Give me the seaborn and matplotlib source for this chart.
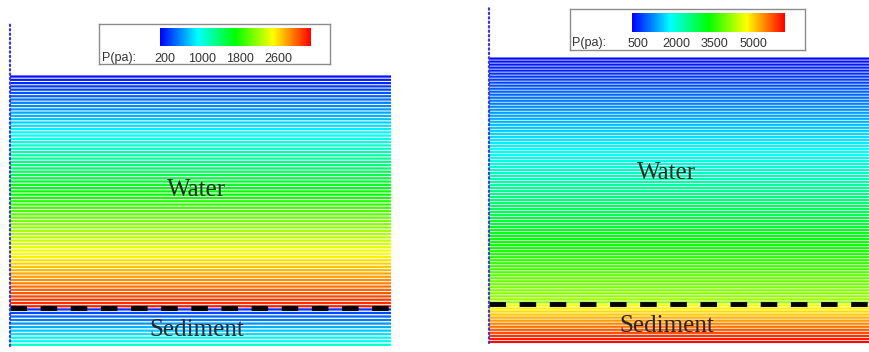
import numpy as np
import pandas as pd
import matplotlib
matplotlib.use("Agg")
import matplotlib.pyplot as plt
import seaborn as sns
from matplotlib.colors import LinearSegmentedColormap, Normalize
from matplotlib.cm import ScalarMappable

# ---- data read off the two runs ----
# pressure (Pa) at top and bottom of each layer, number of grid lines per layer
left_water_p = (150, 3200)
left_sed_p = (250, 1050)
left_lines = (71, 11)
left_ticks = [200, 1000, 1800, 2600]
left_range = (100, 3300)

right_water_p = (300, 4200)
right_sed_p = (4700, 6200)
right_lines = (82, 13)
right_ticks = [500, 2000, 3500, 5000]
right_range = (250, 6250)

# layer extents (m): water top, bed, sediment bottom
left_z = (0.30, 0.0, -0.05)
right_z = (0.31, 0.0, -0.05)
boundary_top = (0.368, 0.375)

W, H = 870, 352

sns.set_style("white")
plt.rcParams["font.family"] = ["Liberation Sans", "DejaVu Sans"]

cmap = LinearSegmentedColormap.from_list(
    "modern", [(0, "#0000ff"), (0.25, "#00ffff"), (0.5, "#00ff00"),
               (0.75, "#ffff00"), (1, "#ff0000")])


def rect(x0, y0, x1, y1):
    return [x0 / W, 1 - y1 / H, (x1 - x0) / W, (y1 - y0) / H]


def layer_frame(z_top, z_bot, p_pair, n, start):
    # grid lines of one layer, top to bottom, with a small inset at each edge
    dz = (z_top - z_bot) / n
    z = np.linspace(z_top, z_bot + dz * 0.5, n)
    p = np.linspace(p_pair[0], p_pair[1], n)
    rows = []
    for i in range(n):
        for x in (0.0, 1.0):
            rows.append({"x": x, "z": z[i], "p": p[i], "line": start + i})
    return pd.DataFrame(rows)


def draw_panel(ax, zs, water_p, sed_p, nlines, rng, ztop_dot):
    df = pd.concat([
        layer_frame(zs[0], zs[1], water_p, nlines[0], 0),
        layer_frame(zs[1] - 0.002, zs[2], sed_p, nlines[1], 1000),
    ])
    sns.lineplot(data=df, x="x", y="z", hue="p", units="line", estimator=None,
                 palette=cmap, hue_norm=Normalize(*rng), legend=False,
                 linewidth=1.6, sort=False, snap=False, ax=ax)
    # water / sediment interface
    ax.plot([0, 1], [zs[1], zs[1]], color="black", lw=3.5, dashes=(3.4, 2.8),
            solid_capstyle="butt")
    # inflow boundary
    ax.plot([0, 0], [zs[2], ztop_dot], color="#3a3ad6", lw=1.6,
            linestyle=(0, (0.6, 1.4)), dash_capstyle="round", clip_on=False)
    ax.set_xlim(0, 1)
    ax.set_ylim(zs[2] - 0.002, zs[0] + 0.002)
    ax.axis("off")


def draw_legend(fig, box, bar, ticks, rng, label_xy, pad):
    bax = fig.add_axes(rect(*box))
    bax.set_xticks([])
    bax.set_yticks([])
    for s in bax.spines.values():
        s.set_color("#8c8c8c")
        s.set_linewidth(1)
    cax = fig.add_axes(rect(*bar))
    cb = fig.colorbar(ScalarMappable(Normalize(*rng), cmap), cax=cax,
                      orientation="horizontal", ticks=ticks)
    cb.outline.set_visible(False)
    cax.tick_params(length=0, pad=pad, labelsize=9, labelcolor="#333333")
    fig.text(label_xy[0] / W, 1 - label_xy[1] / H, "P(pa):", fontsize=9,
             color="#333333", va="center", ha="left")


fig = plt.figure(figsize=(W / 100, H / 100), dpi=100)

ax1 = fig.add_axes(rect(10, 75, 391, 348))
draw_panel(ax1, left_z, left_water_p, left_sed_p, left_lines, left_range,
           boundary_top[0])
ax1.text(0.49, 0.153, "Water", family="Liberation Serif", fontsize=18,
         ha="center", va="center")
ax1.text(0.49, -0.029, "Sediment", family="Liberation Serif", fontsize=18,
         ha="center", va="center")

ax2 = fig.add_axes(rect(489, 57, 870, 345))
draw_panel(ax2, right_z, right_water_p, right_sed_p, right_lines, right_range,
           boundary_top[1])
ax2.text(0.465, 0.166, "Water", family="Liberation Serif", fontsize=18,
         ha="center", va="center")
ax2.text(0.467, -0.0275, "Sediment", family="Liberation Serif", fontsize=18,
         ha="center", va="center")

draw_legend(fig, (99, 24, 330, 64), (160, 28, 311, 46), left_ticks,
            left_range, (102, 58), 5)
draw_legend(fig, (570, 9, 805, 50), (632, 13, 785, 32), right_ticks,
            right_range, (572, 43), 4.5)

fig.savefig("out.png", dpi=100)
